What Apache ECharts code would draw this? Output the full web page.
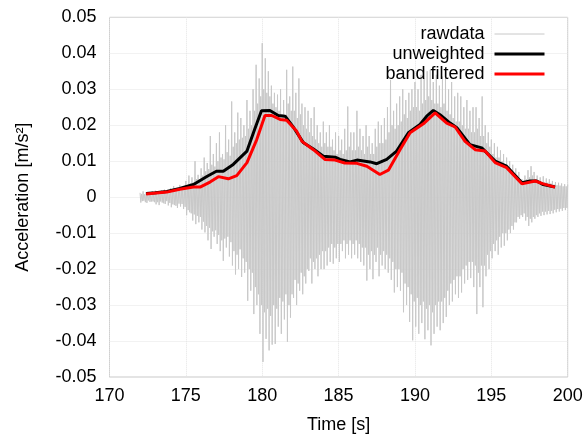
<!DOCTYPE html>
<html>
<head>
<meta charset="utf-8">
<script src="https://cdn.jsdelivr.net/npm/echarts@6/dist/echarts.min.js"></script>
<style>
  html, body { margin: 0; padding: 0; background: #fff; }
  #chart { width: 587px; height: 439px; }
</style>
</head>
<body>
<div id="chart"></div>
<script>
// raw signal, one sample every 0.05 s from 172.0 s (one row per second)
const rawStart = 172.0
const rawStep = 0.05
const rawValues = [
  0.0012, -0.0015, 0.0009, -0.0011, 0.0016, -0.0010, 0.0008, -0.0014, 0.0014, -0.0016, 0.0010, -0.0009, 0.0011, -0.0013, 0.0007, -0.0012, 0.0017, -0.0012, 0.0010, -0.0014,
  0.0018, -0.0020, 0.0011, -0.0014, 0.0013, -0.0022, 0.0015, -0.0012, 0.0019, -0.0015, 0.0012, -0.0017, 0.0021, -0.0019, 0.0014, -0.0011, 0.0016, -0.0023, 0.0013, -0.0016,
  0.0025, -0.0028, 0.0018, -0.0020, 0.0031, -0.0022, 0.0017, -0.0024, 0.0020, -0.0030, 0.0022, -0.0018, 0.0034, -0.0026, 0.0021, -0.0019, 0.0029, -0.0033, 0.0024, -0.0027,
  0.0045, -0.0050, 0.0032, -0.0036, 0.0060, -0.0042, 0.0038, -0.0045, 0.0055, -0.0065, 0.0040, -0.0048, 0.0100, -0.0075, 0.0050, -0.0052, 0.0062, -0.0070, 0.0047, -0.0055,
  0.0080, -0.0090, 0.0060, -0.0068, 0.0110, -0.0098, 0.0072, -0.0080, 0.0095, -0.0120, 0.0078, -0.0085, 0.0170, -0.0144, 0.0090, -0.0095, 0.0120, -0.0110, 0.0085, -0.0092,
  0.0150, -0.0130, 0.0100, -0.0105, 0.0180, -0.0150, 0.0110, -0.0120, 0.0120, -0.0177, 0.0105, -0.0115, 0.0200, -0.0140, 0.0125, -0.0110, 0.0160, -0.0165, 0.0115, -0.0125,
  0.0266, -0.0190, 0.0140, -0.0150, 0.0180, -0.0215, 0.0150, -0.0160, 0.0235, -0.0200, 0.0160, -0.0145, 0.0220, -0.0222, 0.0165, -0.0170, 0.0200, -0.0210, 0.0170, -0.0180,
  0.0270, -0.0288, 0.0190, -0.0200, 0.0240, -0.0260, 0.0200, -0.0210, 0.0300, -0.0325, 0.0240, -0.0250, 0.0368, -0.0300, 0.0260, -0.0270, 0.0330, -0.0380, 0.0280, -0.0300,
  0.0428, -0.0458, 0.0300, -0.0320, 0.0386, -0.0394, 0.0290, -0.0310, 0.0350, -0.0426, 0.0280, -0.0330, 0.0310, -0.0410, 0.0260, -0.0300, 0.0290, -0.0408, 0.0250, -0.0310,
  0.0285, -0.0360, 0.0240, -0.0280, 0.0300, -0.0380, 0.0230, -0.0290, 0.0270, -0.0340, 0.0220, -0.0270, 0.0354, -0.0402, 0.0260, -0.0300, 0.0280, -0.0335, 0.0240, -0.0270,
  0.0363, -0.0280, 0.0240, -0.0230, 0.0290, -0.0300, 0.0220, -0.0240, 0.0330, -0.0260, 0.0230, -0.0210, 0.0260, -0.0270, 0.0200, -0.0220, 0.0250, -0.0240, 0.0190, -0.0200,
  0.0240, -0.0205, 0.0180, -0.0170, 0.0220, -0.0240, 0.0170, -0.0180, 0.0250, -0.0200, 0.0160, -0.0170, 0.0200, -0.0220, 0.0150, -0.0160, 0.0180, -0.0200, 0.0140, -0.0150,
  0.0210, -0.0200, 0.0150, -0.0150, 0.0180, -0.0190, 0.0140, -0.0140, 0.0200, -0.0180, 0.0140, -0.0130, 0.0160, -0.0185, 0.0130, -0.0140, 0.0180, -0.0170, 0.0120, -0.0130,
  0.0170, -0.0180, 0.0130, -0.0130, 0.0160, -0.0150, 0.0120, -0.0120, 0.0190, -0.0170, 0.0130, -0.0130, 0.0252, -0.0160, 0.0140, -0.0120, 0.0180, -0.0170, 0.0130, -0.0130,
  0.0180, -0.0160, 0.0130, -0.0120, 0.0240, -0.0170, 0.0140, -0.0130, 0.0190, -0.0180, 0.0130, -0.0140, 0.0170, -0.0190, 0.0120, -0.0140, 0.0200, -0.0232, 0.0140, -0.0160,
  0.0170, -0.0200, 0.0120, -0.0150, 0.0150, -0.0228, 0.0120, -0.0160, 0.0190, -0.0180, 0.0140, -0.0140, 0.0210, -0.0220, 0.0150, -0.0160, 0.0200, -0.0190, 0.0150, -0.0150,
  0.0220, -0.0200, 0.0160, -0.0160, 0.0250, -0.0210, 0.0180, -0.0170, 0.0326, -0.0230, 0.0200, -0.0180, 0.0240, -0.0265, 0.0190, -0.0200, 0.0260, -0.0250, 0.0200, -0.0200,
  0.0280, -0.0260, 0.0210, -0.0210, 0.0300, -0.0320, 0.0230, -0.0240, 0.0270, -0.0300, 0.0220, -0.0250, 0.0290, -0.0347, 0.0240, -0.0270, 0.0300, -0.0398, 0.0250, -0.0290,
  0.0320, -0.0360, 0.0250, -0.0280, 0.0300, -0.0380, 0.0240, -0.0300, 0.0340, -0.0350, 0.0260, -0.0290, 0.0330, -0.0395, 0.0270, -0.0310, 0.0350, -0.0370, 0.0280, -0.0300,
  0.0354, -0.0412, 0.0270, -0.0320, 0.0320, -0.0380, 0.0260, -0.0300, 0.0340, -0.0360, 0.0260, -0.0290, 0.0310, -0.0370, 0.0250, -0.0290, 0.0335, -0.0350, 0.0260, -0.0280,
  0.0330, -0.0333, 0.0240, -0.0260, 0.0300, -0.0300, 0.0230, -0.0240, 0.0320, -0.0290, 0.0220, -0.0230, 0.0280, -0.0270, 0.0210, -0.0220, 0.0290, -0.0280, 0.0210, -0.0220,
  0.0280, -0.0265, 0.0200, -0.0200, 0.0250, -0.0240, 0.0190, -0.0190, 0.0270, -0.0230, 0.0190, -0.0180, 0.0240, -0.0225, 0.0180, -0.0180, 0.0250, -0.0250, 0.0180, -0.0190,
  0.0250, -0.0325, 0.0190, -0.0210, 0.0220, -0.0250, 0.0170, -0.0190, 0.0280, -0.0306, 0.0170, -0.0190, 0.0200, -0.0220, 0.0150, -0.0160, 0.0180, -0.0200, 0.0140, -0.0150,
  0.0160, -0.0170, 0.0120, -0.0130, 0.0150, -0.0150, 0.0110, -0.0120, 0.0140, -0.0160, 0.0110, -0.0110, 0.0130, -0.0140, 0.0100, -0.0100, 0.0120, -0.0135, 0.0090, -0.0100,
  0.0110, -0.0120, 0.0080, -0.0090, 0.0100, -0.0100, 0.0075, -0.0080, 0.0090, -0.0090, 0.0065, -0.0070, 0.0080, -0.0070, 0.0060, -0.0055, 0.0070, -0.0060, 0.0050, -0.0050,
  0.0050, -0.0055, 0.0040, -0.0045, 0.0060, -0.0065, 0.0050, -0.0055, 0.0075, -0.0080, 0.0055, -0.0060, 0.0086, -0.0070, 0.0060, -0.0055, 0.0070, -0.0060, 0.0050, -0.0050,
  0.0060, -0.0055, 0.0045, -0.0045, 0.0055, -0.0052, 0.0042, -0.0040, 0.0058, -0.0050, 0.0042, -0.0040, 0.0052, -0.0048, 0.0040, -0.0038, 0.0050, -0.0047, 0.0038, -0.0038,
  0.0045, -0.0045, 0.0035, -0.0035, 0.0042, -0.0042, 0.0033, -0.0033, 0.0040, -0.0040, 0.0032, -0.0032, 0.0038, -0.0038, 0.0030, -0.0030, 0.0036, -0.0036, 0.0030, -0.0030,
  0.0035
]

// unweighted envelope
const unwTime = [172.4, 173.0, 173.75, 174.6, 175.5, 176.4, 177.0, 177.45, 178.1, 179.0,
  179.5, 179.95, 180.5, 181.05, 181.5, 182.0, 182.7, 183.35, 184.0, 184.77,
  185.1, 185.75, 186.2, 187.06, 187.5, 188.15, 188.8, 189.57, 190.33, 190.77,
  191.2, 191.64, 192.3, 192.74, 193.6, 194.37, 195.25, 196.0, 197.0, 197.54,
  197.97, 198.4, 199.17]
const unwValue = [0.0010, 0.0012, 0.0016, 0.0024, 0.0035, 0.0058, 0.0072, 0.0072, 0.0091, 0.0128,
  0.0188, 0.0240, 0.0241, 0.0227, 0.0225, 0.0197, 0.0151, 0.0134, 0.0114, 0.0111,
  0.0105, 0.0098, 0.0103, 0.0098, 0.0093, 0.0105, 0.0128, 0.0179, 0.0202, 0.0225,
  0.0241, 0.0229, 0.0206, 0.0193, 0.0146, 0.0137, 0.0100, 0.0086, 0.0040, 0.0045,
  0.0045, 0.0035, 0.0028]

// band filtered envelope
const bandTime = [172.4, 173.75, 174.6, 175.5, 175.93, 176.58, 177.13, 177.78, 178.33, 179.0,
  179.64, 180.18, 180.62, 181.17, 181.6, 182.26, 182.6, 183.35, 184.1, 184.77,
  185.4, 186.2, 186.85, 187.7, 188.26, 189.02, 189.68, 190.55, 191.32, 192.08,
  192.63, 193.28, 193.94, 194.59, 195.25, 196.0, 197.0, 197.87, 198.4, 199.17]
const bandValue = [0.0009, 0.0014, 0.0022, 0.0028, 0.0028, 0.0042, 0.0057, 0.0051, 0.0060, 0.0096,
  0.0160, 0.0227, 0.0227, 0.0216, 0.0214, 0.0183, 0.0155, 0.0132, 0.0105, 0.0103,
  0.0095, 0.0094, 0.0086, 0.0063, 0.0075, 0.0132, 0.0179, 0.0204, 0.0234, 0.0206,
  0.0195, 0.0155, 0.0132, 0.0128, 0.0096, 0.0082, 0.0037, 0.0045, 0.0037, 0.0028]

const seriesNames = ['rawdata', 'unweighted', 'band filtered']

const rawData = rawValues.map((v, i) => [+(rawStart + i * rawStep).toFixed(2), v])
const unwData = unwTime.map((t, i) => [t, unwValue[i]])
const bandData = bandTime.map((t, i) => [t, bandValue[i]])

const FONT = 'Liberation Sans, Arial, sans-serif'

const chart = echarts.init(document.getElementById('chart'), null, { renderer: 'canvas' })

const option = {
  animation: false,
  backgroundColor: '#fff',
  grid: {
    left: 109.5,
    right: 19.3,
    top: 17.3,
    bottom: 60.7,
    show: true,
    borderColor: '#c8c8c8',
    borderWidth: 1,
  },
  legend: {
    orient: 'vertical',
    right: 36,
    top: 20,
    align: 'right',
    itemWidth: 50,
    itemHeight: 14,
    itemGap: 2,
    itemStyle: { opacity: 0 },
    textStyle: {
      fontFamily: FONT,
      fontSize: 18,
      color: '#000',
      padding: [0, 5, 0, 0],
    },
    data: [
      { name: seriesNames[0], lineStyle: { width: 1, color: '#c8c8c8' } },
      { name: seriesNames[1], lineStyle: { width: 3, color: '#000' } },
      { name: seriesNames[2], lineStyle: { width: 3, color: '#ff0000' } },
    ],
  },
  xAxis: {
    type: 'value',
    min: 170,
    max: 200,
    interval: 5,
    name: 'Time [s]',
    nameLocation: 'middle',
    nameGap: 39,
    nameTextStyle: { fontFamily: FONT, fontSize: 18, color: '#000' },
    axisLine: { show: false },
    axisTick: { show: false },
    axisLabel: { fontFamily: FONT, fontSize: 18, color: '#000', margin: 10 },
    splitLine: { show: true, lineStyle: { color: '#e4e4e4', type: 'dotted', width: 1 } },
  },
  yAxis: {
    type: 'value',
    min: -0.05,
    max: 0.05,
    interval: 0.01,
    name: 'Acceleration [m/s²]',
    nameLocation: 'middle',
    nameGap: 77,
    nameTextStyle: { fontFamily: FONT, fontSize: 18, color: '#000' },
    axisLine: { show: false },
    axisTick: { show: false },
    axisLabel: {
      fontFamily: FONT,
      fontSize: 18,
      color: '#000',
      margin: 13,
      formatter: (v) => (Math.abs(v) < 1e-9 ? '0' : v.toFixed(2)),
    },
    splitLine: { show: true, lineStyle: { color: '#e4e4e4', type: 'dotted', width: 1 } },
  },
  series: [
    {
      name: 'rawdata',
      type: 'line',
      data: rawData,
      symbol: 'none',
      silent: true,
      sampling: null,
      lineStyle: { color: '#c8c8c8', width: 1 },
      itemStyle: { color: '#c8c8c8' },
      z: 1,
    },
    {
      name: 'unweighted',
      type: 'line',
      data: unwData,
      symbol: 'none',
      lineStyle: { color: '#000', width: 3 },
      itemStyle: { color: '#000' },
      z: 2,
    },
    {
      name: 'band filtered',
      type: 'line',
      data: bandData,
      symbol: 'none',
      lineStyle: { color: '#ff0000', width: 3 },
      itemStyle: { color: '#ff0000' },
      z: 3,
    },
  ],
}

chart.setOption(option)
</script>
</body>
</html>
